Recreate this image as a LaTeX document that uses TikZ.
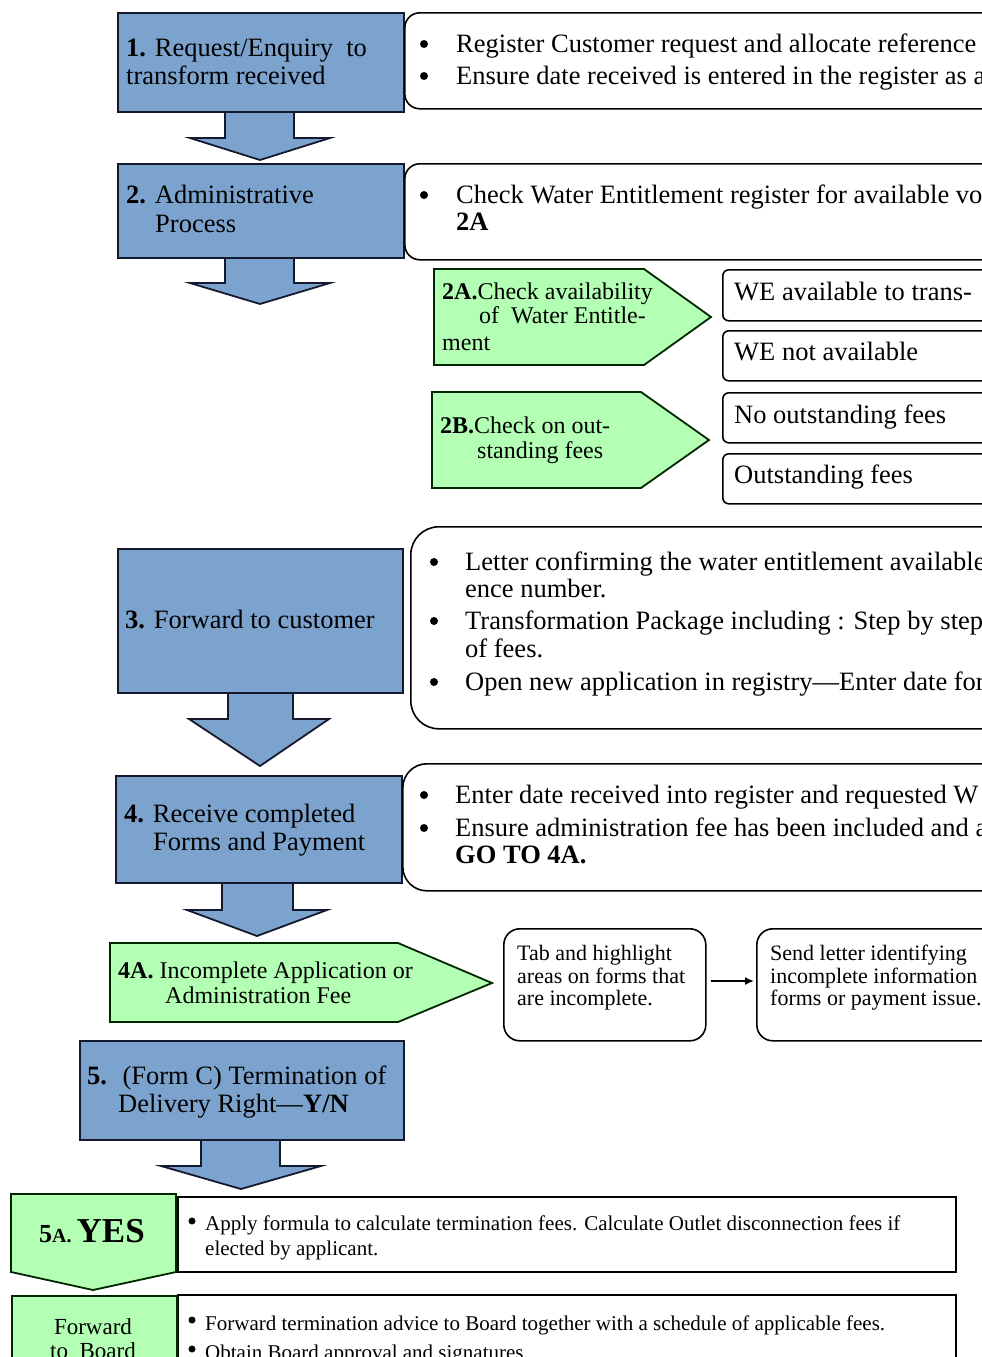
\documentclass[tikz,border=0pt]{standalone}
\usepackage{fontspec}
\setmainfont{Liberation Serif}
\usetikzlibrary{arrows.meta}
\definecolor{bluef}{RGB}{124,163,206}
\definecolor{greenf}{RGB}{179,255,179}
\definecolor{navyline}{RGB}{20,25,45}
\newcommand\myfs[1]{\fontsize{#1}{#1}\selectfont}
\newcommand\boxnode[6]{\node[#1,anchor=north west,inner sep=0pt,minimum width={(#5-#3)*1pt},minimum height={(#6-#4)*1pt}] (#2) at (#3,#4) {};}
\begin{document}
\begin{tikzpicture}[x=1pt,y=-1pt,
  bluebox/.style={fill=bluef,draw=navyline,line width=1.8pt},
  greenbox/.style={fill=greenf,draw=black!85!green,line width=1.8pt},
  rbox/.style={fill=white,draw=black,line width=1.6pt,rounded corners=#1},
  sqbox/.style={fill=white,draw=black,line width=1.8pt},
  lbl/.style={anchor=base west,inner sep=0pt,font=\myfs{26.5}},
  lblm/.style={anchor=base west,inner sep=0pt,font=\myfs{24}},
  lbls/.style={anchor=base west,inner sep=0pt,font=\myfs{22}},
  lblx/.style={anchor=base west,inner sep=0pt,font=\myfs{21}},
  dot/.style={circle,fill=black,draw=none,inner sep=0pt,minimum size=8pt},
  dotx/.style={circle,fill=black,draw=none,inner sep=0pt,minimum size=7pt},
]
\useasboundingbox (0,0) rectangle (982,1357);
\clip (0,0) rectangle (982,1357);

% ---------- blue arrows ----------
\draw[bluebox] (225,111)--(225,138)--(190,138)--(260,160)--(330,138)--(294,138)--(294,111)--cycle;
\draw[bluebox] (225,257)--(225,283)--(190,283)--(260,304)--(330,283)--(294,283)--(294,257)--cycle;
\draw[bluebox] (228,692)--(228,719)--(189,719)--(260,766)--(329,719)--(293,719)--(293,692)--cycle;
\draw[bluebox] (222,882)--(222,910)--(187,910)--(257,936)--(327,910)--(293,910)--(293,882)--cycle;
\draw[bluebox] (201,1139)--(201,1166)--(161,1166)--(241,1189)--(321,1166)--(280,1166)--(280,1139)--cycle;

% ---------- blue boxes ----------
\boxnode{bluebox}{b1}{117}{12}{403}{111}
\boxnode{bluebox}{b2}{117}{163}{403}{257}
\boxnode{bluebox}{b3}{117}{548}{402}{692}
\boxnode{bluebox}{b4}{115}{775}{401}{882}
\boxnode{bluebox}{b5}{79}{1040}{403}{1139}

% ---------- rounded boxes ----------
\boxnode{rbox=15pt}{r1}{404}{12}{1010}{108}
\boxnode{rbox=15pt}{r2}{404}{163}{1010}{259}
\boxnode{rbox=28pt}{r3}{410}{526}{1010}{728}
\boxnode{rbox=24pt}{r4}{402}{763}{1010}{890}
\boxnode{rbox=6pt}{we1}{722}{269}{1010}{320}
\boxnode{rbox=6pt}{we2}{722}{330}{1010}{380}
\boxnode{rbox=6pt}{of1}{722}{392}{1010}{442}
\boxnode{rbox=6pt}{of2}{722}{453}{1010}{503}
\boxnode{rbox=16pt}{tab}{503}{928}{705}{1040}
\boxnode{rbox=16pt}{send}{756}{928}{1010}{1040}
\boxnode{sqbox}{s5a}{177}{1196}{955}{1271}
\boxnode{sqbox}{sfw}{177}{1294}{955}{1420}

% ---------- green shapes ----------
\draw[greenbox] (434,269)--(644,269)--(711,317)--(644,365)--(434,365)--cycle;
\draw[greenbox] (432,392)--(641,392)--(709,440)--(641,488)--(432,488)--cycle;
\draw[greenbox] (110,943)--(398,943)--(492,983)--(398,1022)--(110,1022)--cycle;
\draw[greenbox] (11,1194)--(176,1194)--(176,1272)--(93,1290)--(11,1272)--cycle;
\boxnode{greenbox}{gfw}{11}{1295}{176}{1420}

% ---------- connector ----------
\draw[line width=1.6pt,-{Latex[length=9pt,width=8pt]},shorten <=4pt,shorten >=2pt] (tab.east|-0,981) -- (send.west|-0,981);

% ---------- texts ----------
\node[lbl] (t1a) at (126,56) {\textbf{1.} Request/Enquiry~ to};
\node[lbl] (t1b) at (126,84) {transform received};
\node[lbl] (t2a) at (126,203) {\textbf{2.} Administrative};
\node[lbl] (t2b) at (155,232) {Process};

\node[dot] (u1a) at (424,44) {};
\node[lbl] (x1a) at (456,52) {Register Customer request and allocate reference};
\node[dot] (u1b) at (424,76) {};
\node[lbl] (x1b) at (456,84) {Ensure date received is entered in the register as a};
\node[dot] (u2a) at (424,195) {};
\node[lbl] (x2a) at (456,203) {Check Water Entitlement register for available vo};
\node[lbl] (x2b) at (456,230) {\textbf{2A}};

\node[lblm] (g2a1) at (442,299) {\textbf{2A.}Check availability};
\node[lblm] (g2a2) at (479,323) {of~ Water Entitle-};
\node[lblm] (g2a3) at (442,350) {ment};
\node[lblm] (g2b1) at (440,433) {\textbf{2B.}Check on out-};
\node[lblm] (g2b2) at (477,458) {standing fees};

\node[lbl] (w1) at (734,300) {WE available to trans-};
\node[lbl] (w2) at (734,360) {WE not available};
\node[lbl] (w3) at (734,423) {No outstanding fees};
\node[lbl] (w4) at (734,483) {Outstanding fees};

\node[lbl] (t3) at (125,628) {\textbf{3.} Forward to customer};
\node[dot] (u3a) at (434,562) {};
\node[lbl] (x3a) at (465,570) {Letter confirming the water entitlement available};
\node[lbl] (x3b) at (465,597) {ence number.};
\node[dot] (u3c) at (434,621) {};
\node[lbl] (x3c) at (465,629) {Transformation Package including : Step by step};
\node[lbl] (x3d) at (465,657) {of fees.};
\node[dot] (u3e) at (434,682) {};
\node[lbl] (x3e) at (465,690) {Open new application in registry—Enter date for};

\node[lbl] (t4a) at (124,822) {\textbf{4.} Receive completed};
\node[lbl] (t4b) at (153,850) {Forms and Payment};
\node[dot] (u4a) at (424,795) {};
\node[lbl] (x4a) at (455,803) {Enter date received into register and requested W};
\node[dot] (u4b) at (424,828) {};
\node[lbl] (x4b) at (455,836) {Ensure administration fee has been included and a};
\node[lbl] (x4c) at (455,863) {\textbf{GO TO 4A.}};

\node[lblm] (g4a1) at (118,978) {\textbf{4A.} Incomplete Application or};
\node[lblm] (g4a2) at (165,1003) {Administration Fee};

\node[lbls] (tb1) at (517,960) {Tab and highlight};
\node[lbls] (tb2) at (517,983) {areas on forms that};
\node[lbls] (tb3) at (517,1005) {are incomplete.};
\node[lbls] (sd1) at (770,960) {Send letter identifying};
\node[lbls] (sd2) at (770,983) {incomplete information o};
\node[lbls] (sd3) at (770,1005) {forms or payment issue.};

\node[lbl] (t5a) at (87,1084) {\textbf{5.}~ (Form C) Termination of};
\node[lbl] (t5b) at (118,1112) {Delivery Right—\textbf{Y/N}};

\node[anchor=base west,inner sep=0pt] (y5a) at (39,1242) {\textbf{\myfs{26}5\myfs{20}A.}\hspace{5pt}\textbf{\myfs{35}YES}};
\node[dotx] (u5a) at (192,1221) {};
\node[lblx] (x5a) at (205,1230) {Apply formula to calculate termination fees. Calculate Outlet disconnection fees if};
\node[lblx] (x5b) at (205,1255) {elected by applicant.};

\node[anchor=base,inner sep=0pt,font=\myfs{23}] (fw1) at (93,1334) {Forward};
\node[anchor=base,inner sep=0pt,font=\myfs{23}] (fw2) at (93,1358) {to~ Board};
\node[dotx] (u6a) at (192,1320) {};
\node[lblx] (x6a) at (205,1330) {Forward termination advice to Board together with a schedule of applicable fees.};
\node[dotx] (u6b) at (192,1349) {};
\node[lblx] (x6b) at (205,1359) {Obtain Board approval and signatures.};
\end{tikzpicture}
\end{document}
